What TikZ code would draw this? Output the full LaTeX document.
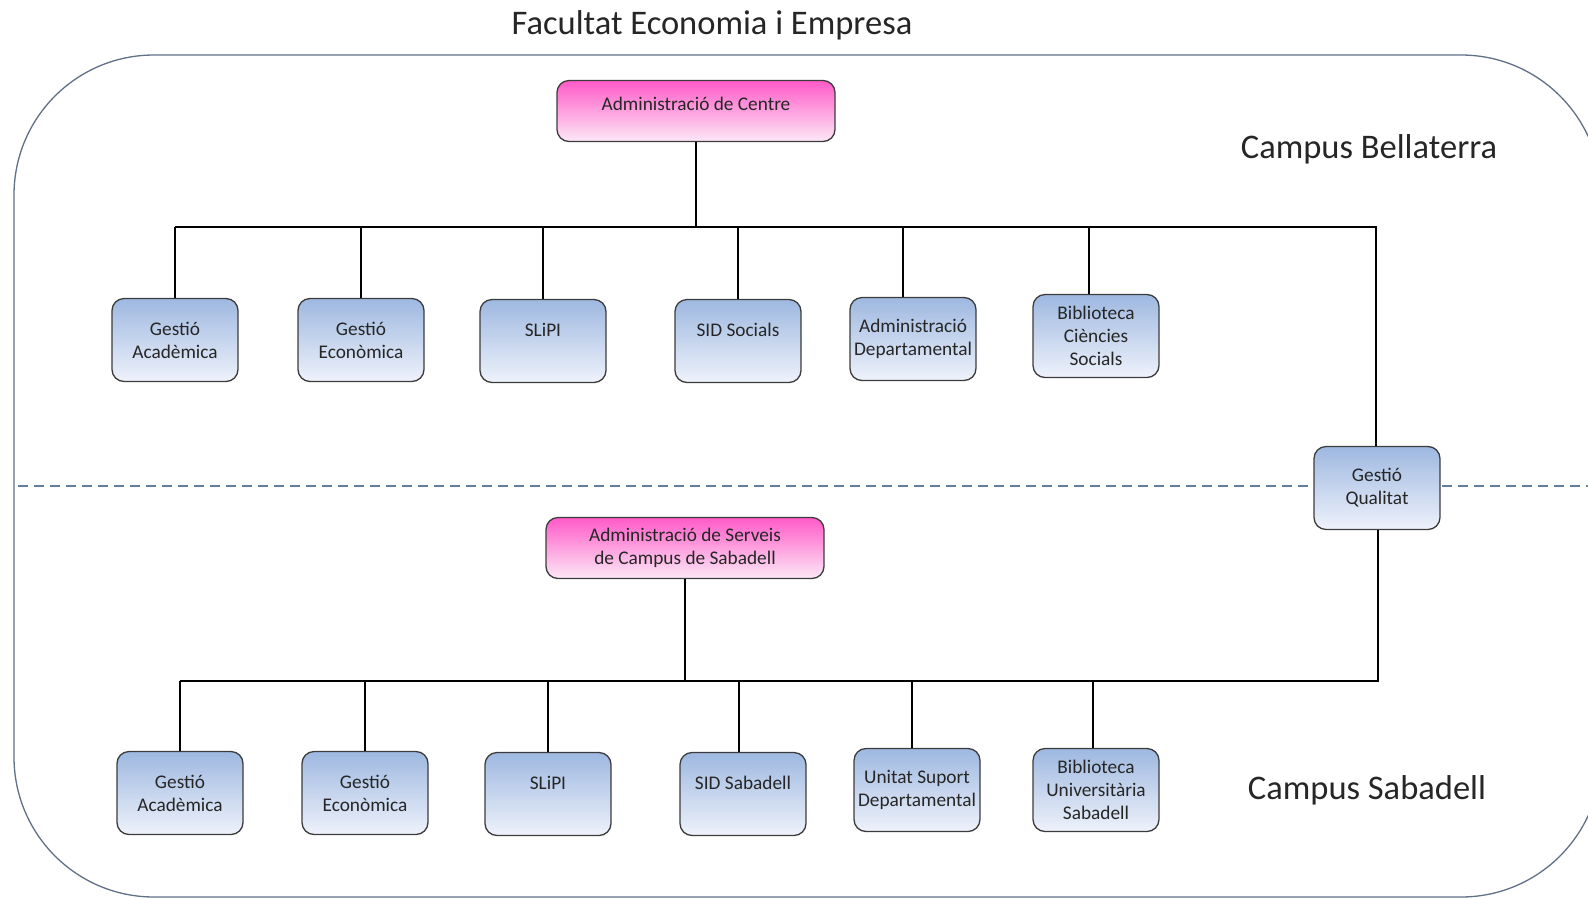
\documentclass[tikz,border=0pt]{standalone}
\usepackage{fontspec}
\setmainfont{Carlito}
\definecolor{frameC}{RGB}{95,112,135}
\definecolor{dashC}{RGB}{95,125,165}
\definecolor{pinkTop}{RGB}{255,90,200}
\definecolor{pinkBot}{RGB}{252,232,246}
\definecolor{blueTop}{RGB}{158,184,224}
\definecolor{blueBot}{RGB}{238,242,251}
\definecolor{boxLine}{RGB}{60,60,60}
\definecolor{txtC}{RGB}{38,38,38}
\tikzset{
  basebox/.style={rectangle, rounded corners=12pt, draw=boxLine, line width=1.3pt,
    minimum width=126pt, minimum height=83pt, align=center, text=txtC,
    font=\fontsize{19.3}{23}\selectfont, inner sep=1pt},
  bluebox/.style={basebox, top color=blueTop, bottom color=blueBot},
  pinkbox/.style={basebox, top color=pinkTop, bottom color=pinkBot,
    minimum width=278pt, minimum height=61pt},
  conn/.style={draw=black, line width=1.4pt},
  biglabel/.style={font=\fontsize{34.5}{38}\selectfont, text=txtC, inner sep=0pt}
}
\begin{document}
\begin{tikzpicture}[x=1pt,y=-1pt]
\useasboundingbox (0,0) rectangle (1588,898);
\begin{scope}
\clip (0,0) rectangle (1588,898);
\draw[frameC, line width=1.3pt, rounded corners=140pt] (14,55) rectangle (1601,897);
\draw[dashC, line width=1.2pt, dash pattern=on 10pt off 6pt] (18,486) -- (1588,486);
\end{scope}

\node[biglabel] (title) at (712,25) {Facultat Economia i Empresa};
\node[biglabel] (cb) at (1369,149) {Campus Bellaterra};
\node[biglabel] (cs) at (1367,790) {Campus Sabadell};

% top part
\node[pinkbox] (adc) at (696,111) {Administració de Centre\\[-9pt]\mbox{}};
\node[bluebox] (ga1) at (175,340) {Gestió\\Acadèmica};
\node[bluebox] (ge1) at (361,340) {Gestió\\Econòmica};
\node[bluebox] (sl1) at (543,341) {SLiPI\\\mbox{}};
\node[bluebox] (sid1) at (738,341) {SID Socials\\\mbox{}};
\node[bluebox] (ad1) at (913,339) {Administració\\Departamental};
\node[bluebox] (bib1) at (1096,336) {Biblioteca\\Ciències\\Socials};
\node[bluebox] (gq) at (1377,488) {Gestió\\Qualitat};

\coordinate (busT) at (696,227);
\coordinate (busTR) at (1376,227);
\draw[conn] (adc.south) -- (busT);
\draw[conn] (ga1.north |- busT) -- (busTR) -- (gq.north -| busTR);
\foreach \n in {ga1,ge1,sl1,sid1}{\draw[conn] (\n.north) -- (\n.north |- busT);}
\draw[conn] ([xshift=-10pt]ad1.north) -- ([xshift=-10pt]ad1.north |- busT);
\draw[conn] ([xshift=-7pt]bib1.north) -- ([xshift=-7pt]bib1.north |- busT);

% bottom part
\node[pinkbox] (ass) at (685,548) {Administració de Serveis\\de Campus de Sabadell};
\node[bluebox] (ga2) at (180,793) {Gestió\\Acadèmica};
\node[bluebox] (ge2) at (365,793) {Gestió\\Econòmica};
\node[bluebox] (sl2) at (548,794) {SLiPI\\\mbox{}};
\node[bluebox] (sid2) at (743,794) {SID Sabadell\\\mbox{}};
\node[bluebox] (us2) at (917,790) {Unitat Suport\\Departamental};
\node[bluebox] (bib2) at (1096,790) {Biblioteca\\Universitària\\Sabadell};

\coordinate (busB) at (685,681);
\coordinate (busBR) at (1378,681);
\draw[conn] (ass.south) -- (busB);
\draw[conn] (gq.south -| busBR) -- (busBR) -- (ga2.north |- busB);
\foreach \n in {ga2,ge2,sl2}{\draw[conn] (\n.north) -- (\n.north |- busB);}
\draw[conn] ([xshift=-4pt]sid2.north) -- ([xshift=-4pt]sid2.north |- busB);
\draw[conn] ([xshift=-5pt]us2.north) -- ([xshift=-5pt]us2.north |- busB);
\draw[conn] ([xshift=-3pt]bib2.north) -- ([xshift=-3pt]bib2.north |- busB);
\end{tikzpicture}
\end{document}
